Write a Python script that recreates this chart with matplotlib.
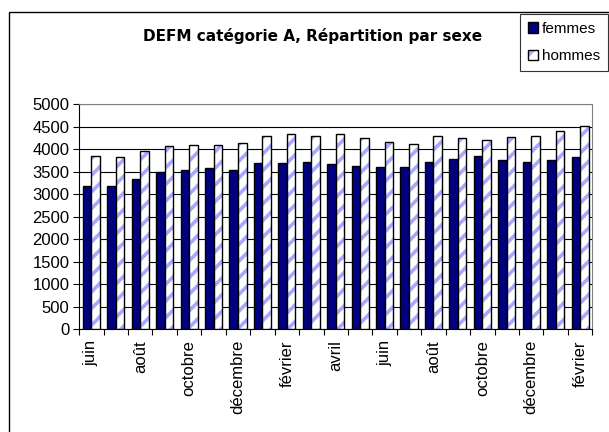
import matplotlib
matplotlib.use("Agg")
import matplotlib.pyplot as plt
from matplotlib.patches import Rectangle, Patch
import numpy as np

plt.rcParams['font.family'] = ['Liberation Sans', 'DejaVu Sans']
plt.rcParams['hatch.linewidth'] = 2.6

months = ["juin", "juillet", "août", "septembre", "octobre", "novembre",
          "décembre", "janvier", "février", "mars", "avril", "mai",
          "juin", "juillet", "août", "septembre", "octobre", "novembre",
          "décembre", "janvier", "février"]
femmes = [3190, 3190, 3330, 3500, 3540, 3570, 3540, 3680, 3680, 3710, 3670,
          3630, 3600, 3600, 3710, 3780, 3850, 3750, 3710, 3750, 3820]
hommes = [3850, 3820, 3960, 4060, 4090, 4090, 4130, 4300, 4340, 4300, 4340,
          4240, 4160, 4120, 4300, 4240, 4200, 4270, 4300, 4410, 4520]
yticks = list(range(0, 5001, 500))

fig = plt.figure(figsize=(6.09, 4.32), dpi=100)
ax = fig.add_axes([0.130, 0.2384, 0.8426, 0.5206])

x = np.arange(len(months))
w = 0.35
navy = "#000080"
lav = "#a8a8ff"

ax.bar(x - w / 2, femmes, w, color=navy, edgecolor="black", linewidth=1.0, zorder=3)
ax.bar(x + w / 2, hommes, w, color="white", edgecolor=lav, hatch="//",
       linewidth=0, zorder=3)
ax.bar(x + w / 2, hommes, w, fill=False, edgecolor="black", linewidth=1.0, zorder=4)

ax.set_xlim(-0.5, len(months) - 0.5)
ax.set_ylim(0, 5000)
ax.set_yticks(yticks)
ax.tick_params(axis="y", labelsize=12, length=4, width=0.8, direction="out", pad=3)
ax.yaxis.grid(True, color="black", linewidth=0.8, zorder=0)
ax.set_axisbelow(True)

ax.set_xticks(x[::2])
ax.set_xticklabels(months[::2], rotation=90, fontsize=12)
ax.tick_params(axis="x", which="major", length=0, pad=8)
ax.set_xticks(np.arange(-0.5, len(months)), minor=True)
ax.tick_params(axis="x", which="minor", length=4, width=0.8, direction="out")

for side in ["top", "right"]:
    ax.spines[side].set_color("#808080")
ax.spines["left"].set_color("black")
ax.spines["bottom"].set_color("black")

fig.text(313 / 609, 1 - 36 / 432, "DEFM catégorie A, Répartition par sexe",
         ha="center", va="center", fontsize=11, fontweight="bold",
         family=["DejaVu Sans"])

h_femmes = Patch(facecolor=navy, edgecolor="black", linewidth=1.0)
h_hommes = (Patch(facecolor="white", edgecolor=lav, hatch="//", linewidth=0),
            Patch(fill=False, edgecolor="black", linewidth=1.0))
leg = fig.legend([h_femmes, h_hommes], ["femmes", "hommes"], loc="upper right",
                 bbox_to_anchor=(608 / 609, 1 - 14 / 432), fontsize=11,
                 frameon=True, fancybox=False, shadow=False,
                 handlelength=0.7, handleheight=0.7, handletextpad=0.25,
                 labelspacing=0.9, borderpad=0.5, borderaxespad=0)
leg.get_frame().set_edgecolor("black")
leg.get_frame().set_linewidth(0.8)

# chart frame
fig.patches.append(Rectangle((9 / 609, -0.2), 1.5, 1.2 - 11.7 / 432,
                             transform=fig.transFigure, fill=False,
                             edgecolor="black", linewidth=1.0, zorder=0))

fig.savefig("out.png", dpi=100)
